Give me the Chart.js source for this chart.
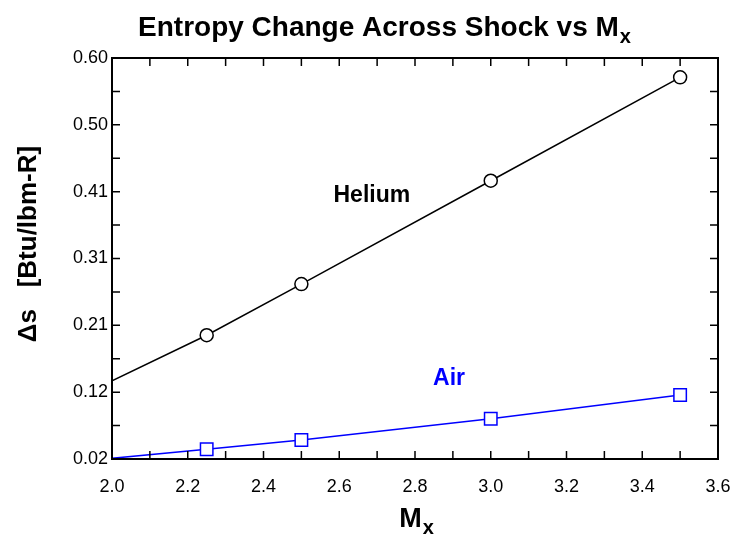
<!DOCTYPE html>
<html>
<head>
<meta charset="utf-8">
<script src="https://cdn.jsdelivr.net/npm/chart.js@4.4.1/dist/chart.umd.min.js"></script>
<style>
  html, body { margin: 0; padding: 0; background: #fff; }
  #wrap { width: 734px; height: 540px; }
</style>
</head>
<body>
<div id="wrap"><canvas id="entropy-chart"></canvas></div>
<script>
// Data

const machNumbers = [2.0, 2.25, 2.5, 3.0, 3.5];
const heliumEntropy = [0.133, 0.199, 0.273, 0.4225, 0.572];
const airEntropy = [0.021, 0.034, 0.0475, 0.0783, 0.1126];

const xTickValues = [2.0, 2.2, 2.4, 2.6, 2.8, 3.0, 3.2, 3.4, 3.6];
const yTickValues = [0.02, 0.116667, 0.213333, 0.31, 0.406667, 0.503333, 0.60];
const yTickLabels = ['0.02', '0.12', '0.21', '0.31', '0.41', '0.50', '0.60'];

const FONT = '"Liberation Sans", Arial, Helvetica, sans-serif';

// inward ticks on all four sides + frame
const frameTicks = {
  id: 'frameTicks',
  afterDatasetsDraw(chart) {
    const ctx = chart.ctx;
    const a = chart.chartArea;
    const xs = chart.scales.x, ys = chart.scales.y;
    const major = 8, minor = 8;
    ctx.save();
    ctx.strokeStyle = '#000';
    ctx.lineWidth = 1.5;
    ctx.beginPath();
    xTickValues.forEach((v, i) => {
      const px = xs.getPixelForValue(v);
      ctx.moveTo(px, a.bottom); ctx.lineTo(px, a.bottom - major);
      ctx.moveTo(px, a.top); ctx.lineTo(px, a.top + major);
      if (i < xTickValues.length - 1) {
        const mx = xs.getPixelForValue((v + xTickValues[i + 1]) / 2);
        ctx.moveTo(mx, a.bottom); ctx.lineTo(mx, a.bottom - minor);
        ctx.moveTo(mx, a.top); ctx.lineTo(mx, a.top + minor);
      }
    });
    yTickValues.forEach((v, i) => {
      const py = ys.getPixelForValue(v);
      ctx.moveTo(a.left, py); ctx.lineTo(a.left + major, py);
      ctx.moveTo(a.right, py); ctx.lineTo(a.right - major, py);
      if (i < yTickValues.length - 1) {
        const my = ys.getPixelForValue((v + yTickValues[i + 1]) / 2);
        ctx.moveTo(a.left, my); ctx.lineTo(a.left + minor, my);
        ctx.moveTo(a.right, my); ctx.lineTo(a.right - minor, my);
      }
    });
    ctx.stroke();
    ctx.lineWidth = 2;
    ctx.strokeRect(a.left, a.top, a.right - a.left, a.bottom - a.top);
    ctx.restore();
  }
};

// titles and curve labels (M with subscript x)
function subText(ctx, main, sub, cx, baseline, size, subSize, drop) {
  ctx.font = 'bold ' + size + 'px ' + FONT;
  const w1 = ctx.measureText(main).width;
  ctx.font = 'bold ' + subSize + 'px ' + FONT;
  const w2 = ctx.measureText(sub).width;
  const x0 = cx - (w1 + w2) / 2;
  ctx.textAlign = 'left';
  ctx.textBaseline = 'alphabetic';
  ctx.font = 'bold ' + size + 'px ' + FONT;
  ctx.fillText(main, x0, baseline);
  ctx.font = 'bold ' + subSize + 'px ' + FONT;
  ctx.fillText(sub, x0 + w1 + 1, baseline + drop);
}

const labels = {
  id: 'labels',
  afterDraw(chart) {
    const ctx = chart.ctx;
    const xs = chart.scales.x, ys = chart.scales.y;
    ctx.save();
    ctx.fillStyle = '#000';
    subText(ctx, 'Entropy Change Across Shock vs M', 'x', 384, 36, 28, 20, 7);
    subText(ctx, 'M', 'x', 416, 527, 27, 20, 7);

    // y axis title
    ctx.save();
    ctx.translate(29, 244);
    ctx.rotate(-Math.PI / 2);
    ctx.font = 'bold 26px ' + FONT;
    ctx.textAlign = 'center';
    ctx.textBaseline = 'middle';
    ctx.fillText('\u0394s   [Btu/lbm-R]', 0, 0);
    ctx.restore();

    ctx.textAlign = 'center';
    ctx.textBaseline = 'middle';
    ctx.font = 'bold 23px ' + FONT;
    ctx.fillText('Helium', xs.getPixelForValue(2.686), ys.getPixelForValue(0.401));
    ctx.fillStyle = '#0000ff';
    ctx.fillText('Air', xs.getPixelForValue(2.89), ys.getPixelForValue(0.1357));
    ctx.restore();
  }
};

const toPoints = ys => machNumbers.map((m, i) => ({ x: m, y: ys[i] }));

new Chart(document.getElementById('entropy-chart'), {
  type: 'line',
  data: {
    datasets: [
      {
        label: 'Helium',
        data: toPoints(heliumEntropy),
        borderColor: '#000',
        borderWidth: 1.5,
        pointStyle: 'circle',
        pointRadius: [0, 6.5, 6.5, 6.5, 6.5],
        pointBackgroundColor: '#fff',
        pointBorderColor: '#000',
        pointBorderWidth: 1.5,
        tension: 0
      },
      {
        label: 'Air',
        data: toPoints(airEntropy),
        borderColor: '#0000ff',
        borderWidth: 1.5,
        pointStyle: 'rect',
        pointRadius: [0, 8.8, 8.8, 8.8, 8.8],
        pointBackgroundColor: '#fff',
        pointBorderColor: '#0000ff',
        pointBorderWidth: 1.5,
        tension: 0
      }
    ]
  },
  options: {
    responsive: true,
    maintainAspectRatio: false,
    animation: false,
    layout: { padding: { top: 58, right: 16, left: 0, bottom: 0 } },
    plugins: {
      legend: { display: false },
      tooltip: { enabled: false }
    },
    scales: {
      x: {
        type: 'linear',
        min: 2.0,
        max: 3.6,
        afterBuildTicks: axis => { axis.ticks = xTickValues.map(v => ({ value: v })); },
        afterFit: s => { s.height = 81; s.paddingLeft = 0; s.paddingRight = 0; },
        grid: { display: false, drawTicks: false },
        border: { display: false },
        ticks: {
          color: '#000',
          font: { family: FONT, size: 18 },
          padding: 17,
          maxRotation: 0,
          autoSkip: false,
          callback: v => v.toFixed(1)
        }
      },
      y: {
        type: 'linear',
        min: 0.02,
        max: 0.60,
        afterBuildTicks: axis => { axis.ticks = yTickValues.map(v => ({ value: v })); },
        afterFit: s => { s.width = 112; s.paddingTop = 0; s.paddingBottom = 0; },
        grid: { display: false, drawTicks: false },
        border: { display: false },
        ticks: {
          color: '#000',
          font: { family: FONT, size: 18 },
          padding: 4,
          autoSkip: false,
          callback: (v, i) => yTickLabels[i]
        }
      }
    }
  },
  plugins: [frameTicks, labels]
});
</script>
</body>
</html>
